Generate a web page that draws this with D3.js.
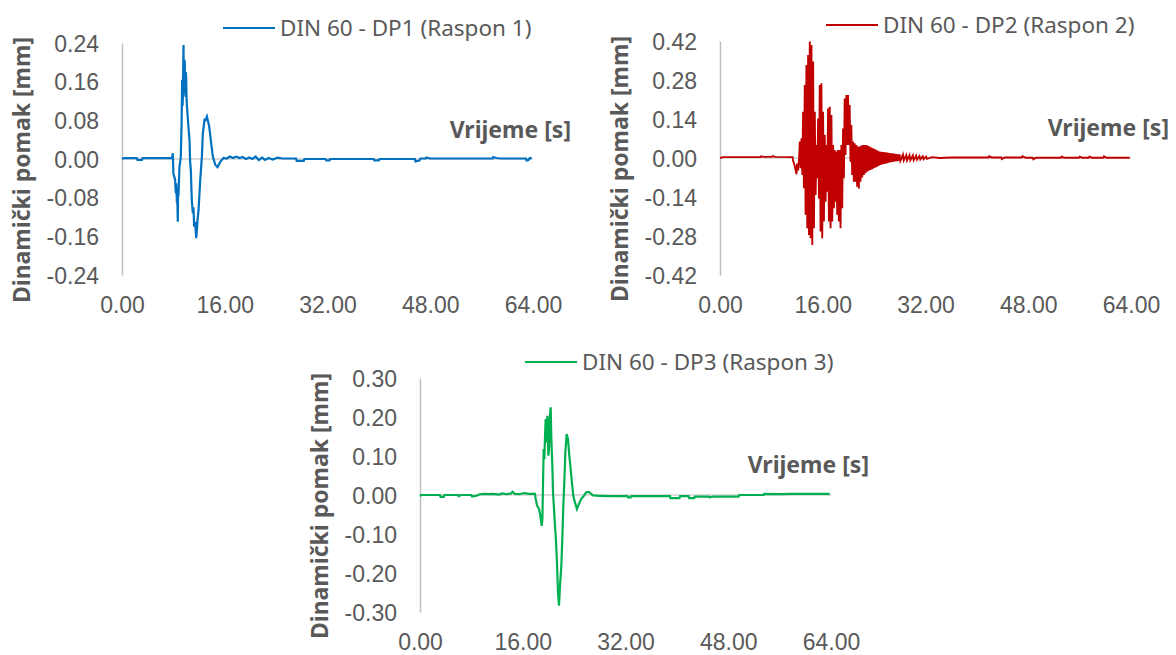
<!DOCTYPE html>
<html>
<head>
<meta charset="utf-8">
<script src="https://cdn.jsdelivr.net/npm/d3@7"></script>
<style>
  html, body { margin: 0; padding: 0; background: #fff; }
  svg { display: block; font-family: "Noto Sans", sans-serif; }
  .tick text { fill: #595959; font-size: 23px; }
</style>
</head>
<body>
<svg id="chart" width="1176" height="655"></svg>
<script>
// x axis ticks (s), shared by all three panels
const xTicks = [0, 16, 32, 48, 64];

// y ticks per panel (mm)
const dp1Ticks = [-0.24, -0.16, -0.08, 0, 0.08, 0.16, 0.24];
const dp2Ticks = [-0.42, -0.28, -0.14, 0, 0.14, 0.28, 0.42];
const dp3Ticks = [-0.3, -0.2, -0.1, 0, 0.1, 0.2, 0.3];

const seriesNames = ['DIN 60 - DP1 (Raspon 1)', 'DIN 60 - DP2 (Raspon 2)', 'DIN 60 - DP3 (Raspon 3)'];

// DP1 [time s, displacement mm]
const dp1 = [
  [0, 0], [0.3, 0.002], [2.3, 0.002], [2.4, -0.002], [3.1, -0.002], [3.2, 0.002], [7.8, 0.002],
  [7.91, 0.012], [8.0, -0.030], [8.27, -0.043], [8.38, -0.071], [8.45, -0.05], [8.55, -0.09],
  [8.63, -0.092], [8.69, -0.130], [8.74, -0.060], [8.79, -0.076], [8.95, -0.016], [9.16, 0.005],
  [9.27, 0.067], [9.37, 0.164], [9.42, 0.110], [9.47, 0.122], [9.52, 0.180], [9.58, 0.236],
  [9.63, 0.140], [9.68, 0.157], [9.73, 0.205], [9.78, 0.198], [9.83, 0.140], [9.89, 0.129],
  [9.94, 0.180], [9.99, 0.170], [10.04, 0.130], [10.09, 0.115], [10.30, 0.074], [10.51, 0.039],
  [10.61, -0.006], [10.72, -0.023], [10.87, -0.085], [11.03, -0.112], [11.13, -0.100],
  [11.24, -0.140], [11.40, -0.130], [11.55, -0.164], [11.65, -0.150], [11.76, -0.126],
  [11.92, -0.106], [12.18, -0.043], [12.33, -0.016], [12.44, 0.005], [12.59, 0.053],
  [12.85, 0.081], [13.0, 0.080], [13.22, 0.088], [13.4, 0.078], [13.58, 0.067], [13.89, 0.032],
  [14.15, 0.005], [14.52, -0.012], [14.88, -0.017], [15.30, -0.006], [15.81, 0.002], [16.3, 0.001],
  [16.8, 0.005], [17.3, 0.002], [17.8, 0.005], [18.3, 0.002], [18.8, 0.004], [19.3, 0.0],
  [19.8, 0.003], [20.3, 0.0], [20.8, 0.005], [21.3, -0.002], [21.8, 0.003], [22.3, -0.002],
  [22.8, 0.002], [23.5, -0.001], [24.2, 0.003], [25.0, 0.001], [27.1, 0.001], [27.2, -0.004],
  [28.3, -0.004], [28.4, 0.0], [31.7, 0.0], [31.8, -0.003], [32.3, -0.003], [32.4, 0.0],
  [39.2, 0.0], [39.3, -0.003], [40.0, -0.003], [40.1, 0.0], [45.6, 0.0], [45.7, -0.005],
  [46.3, -0.003], [46.5, 0.001], [47.3, 0.001], [47.4, 0.003], [48.0, 0.001], [57.7, 0.001],
  [57.8, 0.004], [58.3, 0.002], [59.0, 0.001], [62.9, 0.001], [63.0, -0.003], [63.3, -0.002],
  [63.5, 0.002], [63.8, 0.002]
];

// DP2: dense oscillation, each burst step read as a crest then a trough
const dp2 = [
  [0, 0], [0.5, 0.003], [6.3, 0.003], [6.4, 0.006], [6.8, 0.004], [8.1, 0.004], [8.2, 0.007],
  [8.6, 0.004], [11.3, 0.003], [11.39, -0.010], [11.65, -0.030], [11.91, -0.058], [12.0, -0.020],
  [12.17, -0.045], [12.32, 0.0],
  [12.43, 0.059], [12.56, -0.037], [12.69, 0.071], [12.82, -0.061], [12.94, 0.166], [13.07, -0.109],
  [13.20, 0.262], [13.33, -0.204], [13.46, 0.334], [13.59, -0.252], [13.72, 0.370], [13.85, -0.276],
  [13.98, 0.418], [14.11, -0.288], [14.24, 0.406], [14.37, -0.312], [14.50, 0.346], [14.63, -0.252],
  [14.76, 0.166], [14.89, -0.133], [15.02, 0.047], [15.15, -0.073], [15.28, 0.142], [15.41, -0.145],
  [15.53, 0.262], [15.66, -0.264], [15.79, 0.268], [15.92, -0.288], [16.05, 0.166], [16.18, -0.228],
  [16.31, 0.083], [16.44, -0.157], [16.57, 0.047], [16.70, -0.121], [16.83, 0.178], [16.96, -0.228],
  [17.09, 0.184], [17.22, -0.252], [17.35, 0.154], [17.48, -0.228], [17.61, 0.047], [17.74, -0.180],
  [17.86, 0.029], [17.99, -0.157], [18.12, 0.023], [18.25, -0.204], [18.38, 0.029], [18.51, -0.228],
  [18.64, 0.029], [18.77, -0.252], [18.90, 0.047], [19.03, -0.180], [19.16, 0.106], [19.29, -0.073],
  [19.42, 0.214], [19.55, 0.011], [19.68, 0.226], [19.81, 0.047], [19.94, 0.226], [20.07, 0.047],
  [20.19, 0.190], [20.32, -0.013], [20.45, 0.118], [20.58, -0.061], [20.71, 0.059], [20.84, -0.085],
  [20.97, 0.053], [21.10, -0.085], [21.23, 0.047], [21.36, -0.103], [21.49, 0.041], [21.62, -0.109],
  [21.75, 0.041], [21.88, -0.085], [22.01, 0.045], [22.14, -0.070], [22.27, 0.047], [22.40, -0.061],
  [22.53, 0.047], [22.66, -0.055], [22.78, 0.047], [22.91, -0.049], [23.04, 0.044], [23.17, -0.046],
  [23.30, 0.041], [23.43, -0.043], [23.56, 0.038], [23.69, -0.040], [23.82, 0.035], [23.95, -0.037],
  [24.08, 0.032], [24.21, -0.034], [24.34, 0.029], [24.47, -0.031], [24.60, 0.026], [24.73, -0.028],
  [24.85, 0.023], [24.98, -0.025], [25.11, 0.022], [25.24, -0.023], [25.37, 0.021], [25.50, -0.021],
  [25.63, 0.020], [25.76, -0.020], [25.89, 0.020], [26.02, -0.019], [26.15, 0.019], [26.28, -0.017],
  [26.41, 0.018], [26.54, -0.015], [26.67, 0.017], [26.80, -0.014], [26.92, 0.017], [27.05, -0.013],
  [27.18, 0.015], [27.31, -0.012], [27.44, 0.014], [27.57, -0.011], [27.70, 0.013], [27.83, -0.010],
  [27.96, 0.013], [28.09, -0.010], [28.48, 0.012], [28.61, -0.009], [29.00, 0.010], [29.13, -0.009],
  [29.51, 0.010], [29.64, -0.008], [30.03, 0.009], [30.16, -0.008], [30.55, 0.008], [30.68, -0.006],
  [31.06, 0.007], [31.19, -0.005], [31.58, 0.006], [31.71, -0.004], [32.10, 0.005], [32.23, -0.003],
  [33.0, 0.003], [34.17, 0.0],
  [36.0, 0.002], [41.8, 0.002], [41.9, 0.006], [42.3, 0.002], [43.8, 0.002], [43.9, -0.004],
  [44.3, 0.002], [47.0, 0.002], [47.1, 0.006], [47.6, 0.001], [48.7, 0.001], [48.8, -0.005],
  [49.2, 0.001], [53.1, 0.001], [53.2, 0.005], [53.6, 0.001], [55.9, 0.001], [56.0, 0.005],
  [56.4, 0.001], [57.4, 0.001], [57.5, 0.005], [57.9, 0.001], [59.7, 0.001], [59.8, 0.006],
  [60.2, 0.001], [63.8, 0.001]
];

// DP3 [time s, displacement mm]
const dp3 = [
  [0, -0.003], [0.2, 0.0], [3.1, 0.0], [3.2, -0.005], [3.7, -0.005], [3.8, 0.0], [5.9, 0.0],
  [6.0, -0.003], [6.4, 0.0], [8.0, 0.0], [8.1, -0.004], [8.8, -0.002], [9.3, 0.002], [10.0, 0.003],
  [10.8, 0.002], [11.5, 0.003], [12.3, 0.001], [12.8, 0.004], [13.5, 0.002], [14.2, 0.004],
  [14.4, 0.008], [14.8, 0.003], [15.5, 0.002], [16.2, 0.005], [17.0, 0.003], [17.9, 0.003],
  [18.02, -0.010], [18.23, -0.027], [18.54, -0.036], [18.74, -0.053], [18.95, -0.079],
  [19.06, -0.062], [19.16, 0.032], [19.26, 0.118], [19.37, 0.092], [19.47, 0.150], [19.57, 0.195],
  [19.68, 0.135], [19.83, 0.203], [19.99, 0.101], [20.1, 0.120], [20.19, 0.195], [20.35, 0.225],
  [20.45, 0.144], [20.61, 0.075], [20.71, 0.007], [20.87, -0.036], [21.02, -0.079], [21.13, -0.104],
  [21.33, -0.173], [21.49, -0.250], [21.64, -0.284], [21.80, -0.233], [22.01, -0.181],
  [22.16, -0.113], [22.32, -0.027], [22.47, 0.032], [22.63, 0.109], [22.83, 0.156], [23.04, 0.144],
  [23.25, 0.101], [23.46, 0.067], [23.66, 0.032], [23.87, -0.002], [24.13, -0.019], [24.44, -0.036],
  [24.75, -0.023], [25.11, -0.010], [25.48, -0.003], [25.89, 0.007], [26.30, 0.008], [26.93, -0.001],
  [27.96, -0.002], [29.5, -0.003], [32.3, -0.003], [32.4, -0.006], [32.8, -0.006], [32.9, -0.003],
  [38.9, -0.003], [39.0, -0.008], [40.4, -0.008], [40.5, -0.003], [41.8, -0.003], [41.9, -0.008],
  [42.7, -0.008], [42.8, -0.004], [45.0, -0.004], [45.1, -0.006], [45.6, -0.004], [49.6, -0.004],
  [49.7, 0.0], [53.5, 0.0], [53.6, 0.003], [56.0, 0.002], [58.0, 0.003], [63.8, 0.003]
];

const panels = [
  { data: dp1, ticks: dp1Ticks, name: seriesNames[0], color: '#0070C0', width: 2.2,
    left: 122, top: 43, bottom: 275, legendX: 223, legendY: 28 },
  { data: dp2, ticks: dp2Ticks, name: seriesNames[1], color: '#C00000', width: 1.9,
    left: 720, top: 41, bottom: 275, legendX: 826, legendY: 25 },
  { data: dp3, ticks: dp3Ticks, name: seriesNames[2], color: '#00B050', width: 2.2,
    left: 420, top: 378, bottom: 612, legendX: 525, legendY: 362 }
];

const plotWidth = 411;
const svg = d3.select('#chart');
const fmt = (d) => d3.format('.2f')(d).replace('\u2212', '-');

panels.forEach((p) => {
  const g = svg.append('g');

  const x = d3.scaleLinear().domain([0, 64]).range([p.left, p.left + plotWidth]);
  const yMax = d3.max(p.ticks);
  const y = d3.scaleLinear().domain([-yMax, yMax]).range([p.bottom, p.top]);

  // zero line (horizontal category axis crosses at 0)
  g.append('line')
    .attr('x1', x(0)).attr('x2', x(64))
    .attr('y1', y(0)).attr('y2', y(0))
    .attr('stroke', '#D0D0D0')
    .attr('stroke-width', 1.5);

  // y axis
  const yAxis = g.append('g')
    .attr('transform', `translate(${p.left},0)`)
    .call(d3.axisLeft(y).tickValues(p.ticks).tickFormat(fmt).tickSize(0).tickPadding(23));
  yAxis.select('.domain').attr('stroke', '#BFBFBF').attr('stroke-width', 1.5);
  yAxis.selectAll('.tick text').attr('dy', '0.36em');

  // x labels at the bottom (no line)
  const xAxis = g.append('g')
    .attr('transform', `translate(0,${p.bottom})`)
    .call(d3.axisBottom(x).tickValues(xTicks).tickFormat(d3.format('.2f')).tickSize(0).tickPadding(22));
  xAxis.select('.domain').remove();

  // series
  const line = d3.line().x((d) => x(d[0])).y((d) => y(d[1]));
  g.append('path')
    .datum(p.data)
    .attr('fill', 'none')
    .attr('stroke', p.color)
    .attr('stroke-width', p.width)
    .attr('stroke-linejoin', 'miter')
    .attr('d', line);

  // legend
  g.append('line')
    .attr('x1', p.legendX).attr('x2', p.legendX + 52)
    .attr('y1', p.legendY).attr('y2', p.legendY)
    .attr('stroke', p.color).attr('stroke-width', 2);
  g.append('text')
    .attr('x', p.legendX + 57).attr('y', p.legendY)
    .attr('dy', '0.35em')
    .attr('fill', '#595959')
    .style('font-size', '22.5px')
    .text(p.name);

  // axis titles
  g.append('text')
    .attr('x', p.left + 449).attr('y', p.top + 87)
    .attr('dy', '0.35em')
    .attr('text-anchor', 'end')
    .attr('fill', '#595959')
    .style('font-size', '23px')
    .style('font-weight', 'bold')
    .text('Vrijeme [s]');

  g.append('text')
    .attr('transform', `translate(${p.left - 100},${(p.top + p.bottom) / 2 + 11}) rotate(-90)`)
    .attr('dy', '0.35em')
    .attr('text-anchor', 'middle')
    .attr('fill', '#595959')
    .style('font-size', '23px')
    .style('font-weight', 'bold')
    .text('Dinamički pomak [mm]');
});
</script>
</body>
</html>
